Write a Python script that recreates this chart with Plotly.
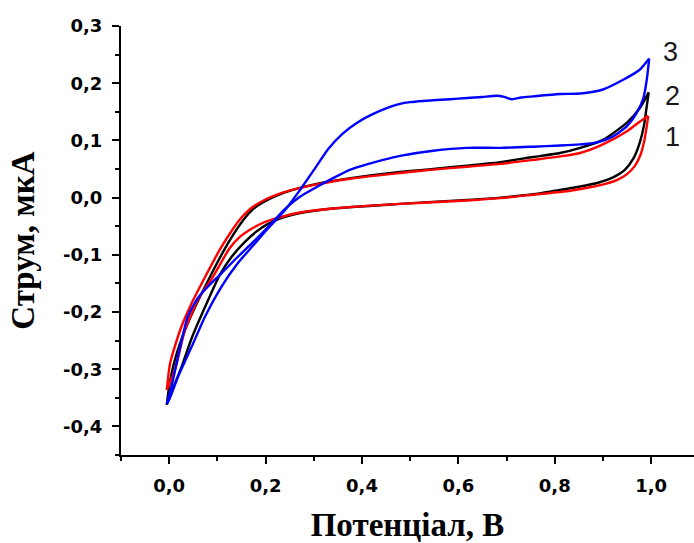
import numpy as np
import plotly.graph_objects as go

# ---------------- data (potential V, current uA) ----------------
# curve 1 (red): forward branch then return branch
x1 = [-0.005, 0.002, 0.023, 0.047, 0.075, 0.105, 0.125, 0.147, 0.168, 0.189, 0.237, 0.306, 0.376, 0.479,
      0.548, 0.618, 0.687, 0.755, 0.811, 0.853, 0.900, 0.950, 0.977, 0.994,
      0.991, 0.986, 0.978, 0.966, 0.950, 0.930, 0.905, 0.873, 0.832, 0.755, 0.687, 0.618, 0.479, 0.340,
      0.272, 0.223, 0.195, 0.170, 0.145, 0.125, 0.091, 0.060, 0.033, 0.012, -0.005]
y1 = [-0.336, -0.289, -0.231, -0.184, -0.138, -0.091, -0.064, -0.038, -0.020, -0.008, 0.009, 0.023, 0.033, 0.043,
      0.049, 0.054, 0.059, 0.066, 0.072, 0.078, 0.093, 0.116, 0.133, 0.143,
      0.125, 0.100, 0.075, 0.055, 0.041, 0.031, 0.024, 0.018, 0.012, 0.005, -0.001, -0.005, -0.011, -0.019,
      -0.026, -0.036, -0.044, -0.055, -0.070, -0.089, -0.138, -0.178, -0.231, -0.301, -0.336]

# curve 2 (black)
x2 = [-0.005, 0.000, 0.012, 0.033, 0.058, 0.085, 0.113, 0.132, 0.153, 0.173, 0.195, 0.240, 0.306, 0.376, 0.479,
      0.548, 0.618, 0.687, 0.755, 0.811, 0.853, 0.900, 0.950, 0.977, 0.995,
      0.991, 0.985, 0.976, 0.963, 0.945, 0.920, 0.890, 0.850, 0.800, 0.755, 0.687, 0.618, 0.479, 0.340,
      0.272, 0.235, 0.205, 0.180, 0.155, 0.130, 0.105, 0.075, 0.047, 0.026, 0.005, -0.005]
y2 = [-0.362, -0.330, -0.283, -0.231, -0.184, -0.138, -0.093, -0.066, -0.040, -0.021, -0.008, 0.009, 0.024, 0.034, 0.045,
      0.050, 0.056, 0.062, 0.071, 0.078, 0.087, 0.101, 0.131, 0.157, 0.184,
      0.160, 0.125, 0.095, 0.068, 0.048, 0.035, 0.026, 0.019, 0.012, 0.006, 0.000, -0.004, -0.011, -0.019,
      -0.027, -0.035, -0.046, -0.060, -0.079, -0.103, -0.135, -0.190, -0.245, -0.295, -0.340, -0.362]

# curve 3 (blue)
x3 = [-0.005, 0.000, 0.019, 0.047, 0.075, 0.109, 0.143, 0.175, 0.205, 0.240, 0.272, 0.300, 0.330, 0.360, 0.390,
      0.420, 0.450, 0.479, 0.500, 0.527, 0.583, 0.618, 0.650, 0.680, 0.695, 0.711, 0.730, 0.755, 0.811,
      0.853, 0.900, 0.942, 0.977, 0.996,
      0.991, 0.984, 0.970, 0.950, 0.921, 0.887, 0.853, 0.811, 0.755, 0.687, 0.618, 0.548, 0.479,
      0.444, 0.410, 0.376, 0.340, 0.305, 0.272, 0.240, 0.210, 0.175, 0.143, 0.109, 0.081, 0.060, 0.039,
      0.019, 0.005, -0.005]
y3 = [-0.360, -0.353, -0.312, -0.260, -0.207, -0.155, -0.114, -0.083, -0.054, -0.022, 0.014, 0.048, 0.085, 0.112, 0.131,
      0.145, 0.156, 0.164, 0.167, 0.169, 0.172, 0.174, 0.176, 0.178, 0.176, 0.172, 0.175, 0.177, 0.181,
      0.182, 0.189, 0.206, 0.224, 0.243,
      0.206, 0.174, 0.148, 0.125, 0.107, 0.096, 0.093, 0.091, 0.089, 0.087, 0.087, 0.082, 0.073,
      0.066, 0.058, 0.049, 0.034, 0.018, 0.002, -0.020, -0.047, -0.077, -0.103, -0.132, -0.155, -0.175, -0.207,
      -0.275, -0.330, -0.360]

curve_labels = ["1", "2", "3"]
label_x = [1.044, 1.044, 1.041]
label_y = [0.106, 0.177, 0.255]
x_tick_vals = [0.0, 0.2, 0.4, 0.6, 0.8, 1.0]
x_tick_text = ["0,0", "0,2", "0,4", "0,6", "0,8", "1,0"]
y_tick_vals = [-0.4, -0.3, -0.2, -0.1, 0.0, 0.1, 0.2, 0.3]
y_tick_text = ["-0,4", "-0,3", "-0,2", "-0,1", "0,0", "0,1", "0,2", "0,3"]
x_title = "Потенціал, В"
y_title = "Струм, мкА"

# ---------------- figure ----------------
fig = go.Figure()

def add_loop(xs, ys, color):
    xs = np.asarray(xs); ys = np.asarray(ys)
    k = int(np.argmax(xs))
    for a, b in ((0, k + 1), (k, len(xs))):
        fig.add_trace(go.Scatter(x=xs[a:b], y=ys[a:b], mode="lines",
                                 line=dict(color=color, width=2.4, shape="spline", smoothing=0.6),
                                 showlegend=False, hoverinfo="skip"))

add_loop(x2, y2, "#000000")
add_loop(x1, y1, "#ff0000")
add_loop(x3, y3, "#0000ff")

for lab, lx, ly in zip(curve_labels, label_x, label_y):
    fig.add_annotation(x=lx, y=ly, text=lab, showarrow=False,
                       xref="x", yref="y", xanchor="center", yanchor="middle",
                       font=dict(family="Liberation Sans", size=27, color="#1a1a1a"))

tick_font = dict(family="DejaVu Sans", size=18, color="black", weight="bold")
title_font = dict(family="Liberation Serif", size=33, color="black", weight="bold")

fig.update_layout(
    width=694, height=543,
    margin=dict(l=121, r=0, t=26, b=88),
    paper_bgcolor="white", plot_bgcolor="white",
    separators=",.",
    xaxis=dict(range=[-0.1, 1.089], showline=True, linecolor="black", linewidth=2,
               showgrid=False, zeroline=False, ticks="outside", ticklen=7, tickwidth=2,
               tickcolor="black", tickvals=x_tick_vals, ticktext=x_tick_text,
               tickfont=tick_font, ticklabelstandoff=6,
               minor=dict(tickvals=[-0.1, 0.1, 0.3, 0.5, 0.7, 0.9], ticks="outside",
                          ticklen=4, tickwidth=2, tickcolor="black", showgrid=False),
               title=dict(text=x_title, font=title_font, standoff=22)),
    yaxis=dict(range=[-0.45, 0.3], showline=True, linecolor="black", linewidth=2,
               showgrid=False, zeroline=False, ticks="outside", ticklen=7, tickwidth=2,
               tickcolor="black", tickvals=y_tick_vals, ticktext=y_tick_text,
               tickfont=tick_font, ticklabelstandoff=6,
               minor=dict(tickvals=[-0.45, -0.35, -0.25, -0.15, -0.05, 0.05, 0.15, 0.25],
                          ticks="outside", ticklen=4, tickwidth=2, tickcolor="black",
                          showgrid=False),
               title=dict(text=y_title, font=title_font, standoff=18)),
)

fig.write_html("out.html")
